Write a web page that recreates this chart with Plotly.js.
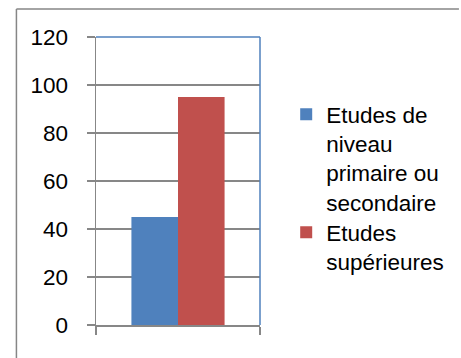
<!DOCTYPE html>
<html>
<head>
<meta charset="utf-8">
<script src="https://cdn.plot.ly/plotly-3.0.1.min.js"></script>
<style>html,body{margin:0;padding:0;background:#fff;}#chart{width:461px;height:358px;}</style>
</head>
<body>
<div id="chart"></div>
<script>
const categories = ["Série"];
const seriesNames = ["Etudes de<br>niveau<br>primaire ou<br>secondaire", "Etudes<br>supérieures"];
const primaireValues = [45];
const superieuresValues = [95];
const yTicks = [0, 20, 40, 60, 80, 100, 120];

const FONT = "Liberation Sans, Arial, sans-serif";
const GRID = "#878787";

const L = 96, R = 265, T = 37, B = 325, W = 461, H = 358;
const px = x => (x - L) / (R - L);
const py = y => (B - y) / (B - T);

const traces = [
  {type: "bar", x: categories, y: primaireValues, name: seriesNames[0],
   marker: {color: "#4f81bd"}, hoverinfo: "y", legend: "legend"},
  {type: "bar", x: categories, y: superieuresValues, name: seriesNames[1],
   marker: {color: "#c0504d"}, hoverinfo: "y", legend: "legend2"}
];

const legendBase = {
  xanchor: "left", yanchor: "top", valign: "top",
  font: {family: FONT, size: 22.5, color: "#000"},
  bgcolor: "rgba(0,0,0,0)", itemwidth: 30
};

const layout = {
  width: W, height: H,
  margin: {l: L, r: W - R, t: T, b: H - B, pad: 0},
  paper_bgcolor: "#fff", plot_bgcolor: "#fff",
  font: {family: FONT, size: 22.5, color: "#000"},
  barmode: "group", bargap: 0.432, bargroupgap: 0,
  showlegend: true,
  legend: Object.assign({x: px(292), y: py(93)}, legendBase),
  legend2: Object.assign({x: px(292), y: py(211)}, legendBase),
  xaxis: {
    type: "category", range: [-0.5, 0.5], showticklabels: false,
    tickson: "boundaries", ticks: "outside", ticklen: 8, tickwidth: 1.5, tickcolor: GRID,
    showline: true, linecolor: GRID, linewidth: 1.5, showgrid: false, zeroline: false,
    fixedrange: true
  },
  yaxis: {
    range: [0, 120], tickvals: yTicks, ticktext: yTicks.map(String),
    ticks: "outside", ticklen: 8, tickwidth: 1.5, tickcolor: GRID,
    ticklabelstandoff: 14,
    showline: true, linecolor: GRID, linewidth: 1.5,
    showgrid: true, gridcolor: GRID, gridwidth: 1.5, zeroline: false,
    tickfont: {family: FONT, size: 22.5, color: "#000"}, fixedrange: true
  },
  shapes: [
    {type: "line", xref: "paper", yref: "paper", x0: 0, x1: 1, y0: 1, y1: 1,
     line: {color: "#4f81bd", width: 1.5}},
    {type: "line", xref: "paper", yref: "paper", x0: 1, x1: 1, y0: 0, y1: 1,
     line: {color: "#4f81bd", width: 1.5}},
    {type: "line", xref: "paper", yref: "paper", x0: px(14), x1: px(470), y0: py(9), y1: py(9),
     line: {color: "#868686", width: 1.5}},
    {type: "line", xref: "paper", yref: "paper", x0: px(14), x1: px(14), y0: py(9), y1: py(370),
     line: {color: "#868686", width: 1.5}}
  ]
};

Plotly.newPlot("chart", traces, layout, {displayModeBar: false, staticPlot: true});
</script>
</body>
</html>
